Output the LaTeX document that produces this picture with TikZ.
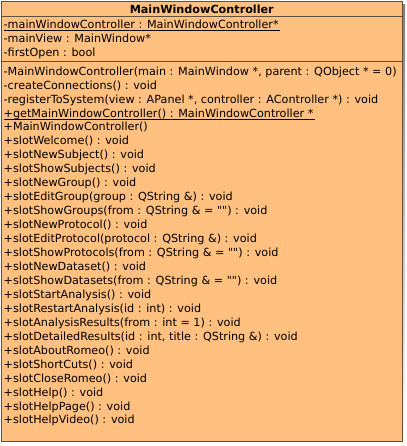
\documentclass[tikz,border=0pt]{standalone}
\usepackage{fontspec}
\newfontfamily\umlfont{DejaVu Sans}
\usepackage{tikz}
\definecolor{classfill}{RGB}{255,192,128}
\definecolor{classline}{RGB}{96,80,64}
\definecolor{shade}{RGB}{128,128,128}
\tikzset{member/.style={anchor=base west, inner sep=0pt, font=\umlfont\fontsize{11.2}{13}\selectfont},
         uline/.style={line width=.9pt, black}}

\begin{document}
\begin{tikzpicture}[x=1pt, y=-1pt]
      \useasboundingbox (0,0) rectangle (406,446);

      % shadow and box
      \fill[shade] (5,5) rectangle (405,444);
      \draw[fill=classfill, draw=classline, line width=1pt] (1.5,1.5) rectangle (402,441);
      \draw[classline, line width=1pt] (1.5,16.5) -- (402,16.5);
      \draw[classline, line width=1pt] (1.5,62) -- (402,62);

      \node[member, anchor=base, font=\umlfont\fontsize{11.2}{13}\selectfont\bfseries] (title) at (201.75,13.3) {MainWindowController};

      % attributes
      \node[member] (a1) at (3.5,28.5) {-mainWindowController : MainWindowController*};
      \node[member] (a2) at (3.5,42.4) {-mainView : MainWindow*};
      \node[member] (a3) at (3.5,56.3) {-firstOpen : bool};

      % operations
      \foreach \txt [count=\i, evaluate=\i as \y using 75.2+13.95*(\i-1)] in {
          {-MainWindowController(main : MainWindow *, parent : QObject * = 0)},
          {-createConnections() : void},
          {-registerToSystem(view : APanel *, controller : AController *) : void},
          {+getMainWindowController() : MainWindowController *},
          {+MainWindowController()},
          {+slotWelcome() : void},
          {+slotNewSubject() : void},
          {+slotShowSubjects() : void},
          {+slotNewGroup() : void},
          {+slotEditGroup(group : QString \&) : void},
          {+slotShowGroups(from : QString \& = "") : void},
          {+slotNewProtocol() : void},
          {+slotEditProtocol(protocol : QString \&) : void},
          {+slotShowProtocols(from : QString \& = "") : void},
          {+slotNewDataset() : void},
          {+slotShowDatasets(from : QString \& = "") : void},
          {+slotStartAnalysis() : void},
          {+slotRestartAnalysis(id : int) : void},
          {+slotAnalysisResults(from : int = 1) : void},
          {+slotDetailedResults(id : int, title : QString \&) : void},
          {+slotAboutRomeo() : void},
          {+slotShortCuts() : void},
          {+slotCloseRomeo() : void},
          {+slotHelp() : void},
          {+slotHelpPage() : void},
          {+slotHelpVideo() : void}}
        \node[member] (m\i) at (3.5,\y) {\txt};

      % static members
      \draw[uline] ([yshift=-2.2pt]a1.base west) -- ([yshift=-2.2pt,xshift=1pt]a1.base east);
      \draw[uline] ([yshift=-2pt]m4.base west) -- ([yshift=-2pt,xshift=1pt]m4.base east);

\end{tikzpicture}
\end{document}
